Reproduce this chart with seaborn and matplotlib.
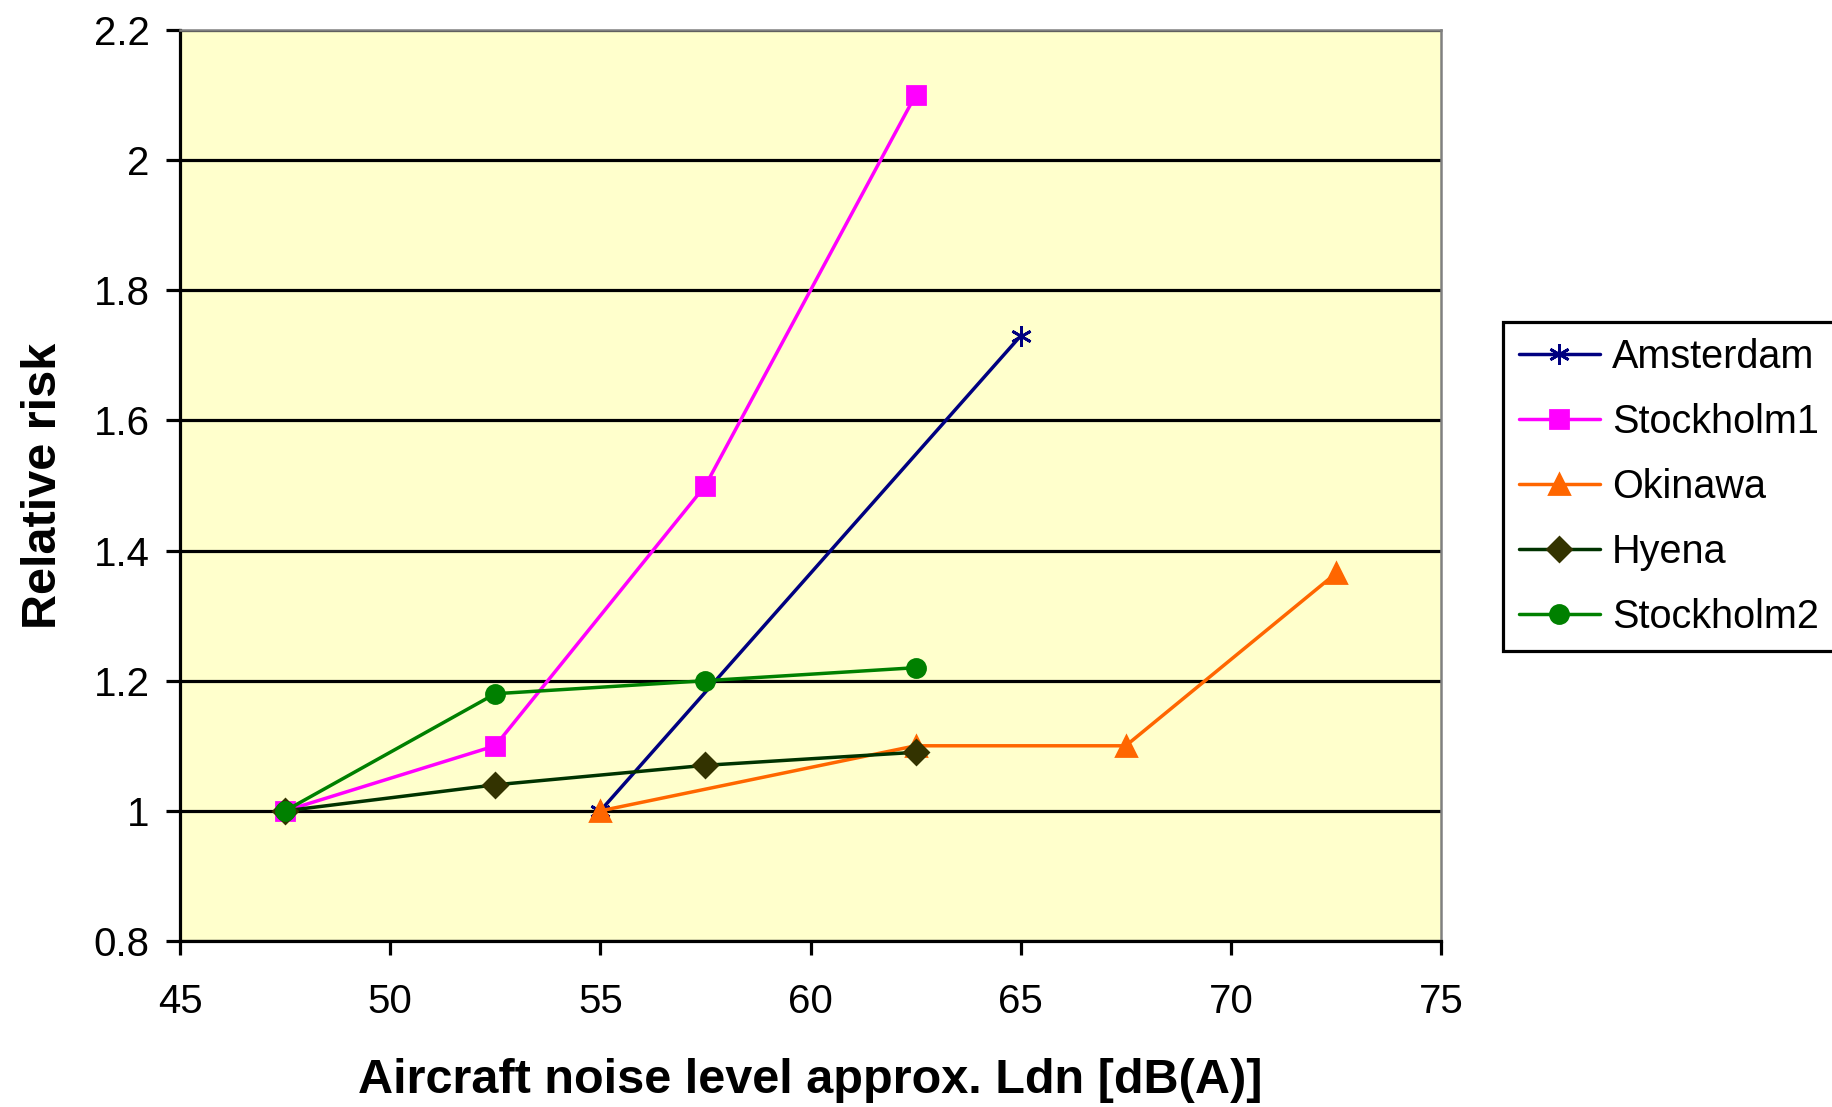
import matplotlib
matplotlib.use("Agg")
import matplotlib.pyplot as plt
import seaborn as sns
import pandas as pd

# Data
amsterdam_x = [55, 65]
amsterdam_y = [1.0, 1.73]
stockholm1_x = [47.5, 52.5, 57.5, 62.5]
stockholm1_y = [1.0, 1.10, 1.50, 2.10]
okinawa_x = [55, 62.5, 67.5, 72.5]
okinawa_y = [1.0, 1.10, 1.10, 1.365]
hyena_x = [47.5, 52.5, 57.5, 62.5]
hyena_y = [1.0, 1.04, 1.07, 1.09]
stockholm2_x = [47.5, 52.5, 57.5, 62.5]
stockholm2_y = [1.0, 1.18, 1.20, 1.22]

x_ticks = [45, 50, 55, 60, 65, 70, 75]
y_ticks = [0.8, 1.0, 1.2, 1.4, 1.6, 1.8, 2.0, 2.2]
y_tick_labels = ["0.8", "1", "1.2", "1.4", "1.6", "1.8", "2", "2.2"]

series = [
    ("Amsterdam", amsterdam_x, amsterdam_y, "#000080", "#000080", (6, 2, 0), 15),
    ("Stockholm1", stockholm1_x, stockholm1_y, "#FF00FF", "#FF00FF", "s", 12.5),
    ("Okinawa", okinawa_x, okinawa_y, "#FF6600", "#FF6600", "^", 15),
    ("Hyena", hyena_x, hyena_y, "#003300", "#333300", "D", 12),
    ("Stockholm2", stockholm2_x, stockholm2_y, "#008000", "#008000", "o", 13),
]

sns.set_style("white")
plt.rcParams['font.family'] = ['Liberation Sans', 'DejaVu Sans']
plt.rcParams['text.color'] = 'black'
plt.rcParams['axes.labelcolor'] = 'black'
plt.rcParams['xtick.color'] = 'black'
plt.rcParams['ytick.color'] = 'black'

fig = plt.figure(figsize=(18.33, 11.07), dpi=100)
ax = fig.add_axes([180 / 1833, 1 - 941 / 1107, (1441 - 180) / 1833, (941 - 30) / 1107])
ax.set_facecolor("#FFFFCC")

for name, xs, ys, lc, mc, mk, ms in series:
    df = pd.DataFrame({"x": xs, "y": ys})
    sns.lineplot(data=df, x="x", y="y", ax=ax, color=lc, marker=mk, markersize=ms,
                 markerfacecolor=mc, markeredgecolor=mc, markeredgewidth=2.0,
                 linewidth=2.5, label=name, zorder=3)

ax.set_xlim(45, 75)
ax.set_ylim(0.8, 2.2)
ax.set_xticks(x_ticks)
ax.set_xticklabels([str(t) for t in x_ticks])
ax.set_yticks(y_ticks)
ax.set_yticklabels(y_tick_labels)

ax.grid(axis="y", color="black", linewidth=2.3, zorder=1)
ax.grid(axis="x", visible=False)
ax.set_axisbelow(True)

for s in ["left", "bottom"]:
    ax.spines[s].set_color("black")
    ax.spines[s].set_linewidth(2.3)
for s in ["top", "right"]:
    ax.spines[s].set_color("#808080")
    ax.spines[s].set_linewidth(1.8)

ax.tick_params(axis="both", which="major", direction="out", length=10, width=2.3,
               color="black", labelsize=29, left=True, bottom=True)
ax.tick_params(axis="x", pad=20)
ax.tick_params(axis="y", pad=12)

ax.set_xlabel("Aircraft noise level approx. Ldn [dB(A)]", fontsize=35, fontweight="bold", labelpad=27)
ax.set_ylabel("Relative risk", fontsize=35, fontweight="bold", labelpad=20)

leg = ax.legend(loc="upper left", bbox_to_anchor=(1503 / 1833, 1 - 322 / 1107),
                bbox_transform=fig.transFigure, fontsize=28.5, frameon=True, fancybox=False,
                edgecolor="black", framealpha=1, handlelength=2.05, handletextpad=0.3,
                labelspacing=0.68, borderpad=0.4, borderaxespad=0)
leg.get_frame().set_linewidth(2.3)

fig.savefig("out.png", dpi=100, facecolor="white")
